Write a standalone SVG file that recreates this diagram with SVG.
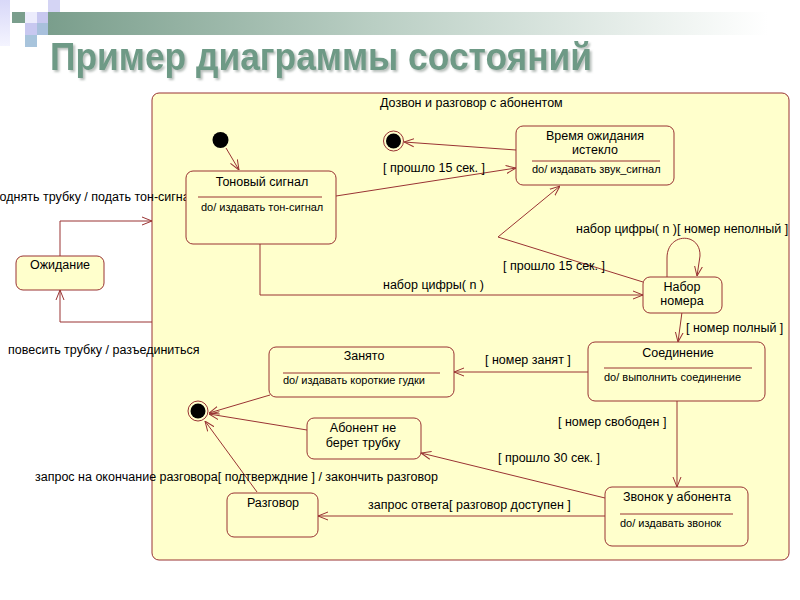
<svg xmlns="http://www.w3.org/2000/svg" width="800" height="600" viewBox="0 0 800 600">
<defs>
<linearGradient id="bar" x1="0" y1="0" x2="1" y2="0">
<stop offset="0" stop-color="#7A9E8C"/>
<stop offset="0.45" stop-color="#B9CEC3"/>
<stop offset="1" stop-color="#FFFFFF"/>
</linearGradient>
<linearGradient id="lav" x1="0" y1="0" x2="0" y2="1">
<stop offset="0" stop-color="#D8D8F8"/>
<stop offset="1" stop-color="#F4F4FF"/>
</linearGradient>
<filter id="shadow" x="-5%" y="-20%" width="110%" height="150%">
<feDropShadow dx="2" dy="2" stdDeviation="1" flood-color="#9AA49F" flood-opacity="0.7"/>
</filter>
<marker id="arr" viewBox="0 0 10 10" refX="10" refY="5" markerWidth="10" markerHeight="10" markerUnits="userSpaceOnUse" orient="auto">
<path d="M0,1 L10,5 L0,9" fill="none" stroke="#993333" stroke-width="1"/>
</marker>
</defs>
<style>
.t{font-family:"Liberation Sans",Arial,sans-serif;font-size:12.5px;fill:#000}
.s{font-family:"Liberation Sans",Arial,sans-serif;font-size:11px;fill:#000}
.m{text-anchor:middle}
.box{fill:#FFFFCC;stroke:#993333;stroke-width:1}
.div{stroke:#993333;stroke-width:1}
.c{fill:none;stroke:#993333;stroke-width:1}
.a{marker-end:url(#arr)}
</style>
<rect width="800" height="600" fill="#FFFFFF"/>
<g id="decor">
<rect x="0" y="0" width="10" height="46" fill="url(#lav)"/>
<rect x="48" y="0" width="12" height="12" fill="#D4D4F4"/>
<rect x="48" y="12" width="720" height="23" fill="url(#bar)"/>
<rect x="12" y="12" width="13" height="11" fill="#7A9E8C"/>
<rect x="25" y="12" width="12" height="11" fill="#ECECFC"/>
<rect x="37" y="12" width="11" height="11" fill="#C8C8F0"/>
<rect x="25" y="23" width="12" height="12" fill="#C8C8F0"/>
<rect x="37" y="23" width="11" height="12" fill="#A8C0DC"/>
<rect x="25" y="35" width="12" height="12" fill="#A8C4DC"/>
</g>
<g id="title">
<text x="50" y="70" font-family="'Liberation Sans Narrow','Liberation Sans',Arial,sans-serif" font-size="38" font-weight="bold" fill="#6E9A86" textLength="542" lengthAdjust="spacingAndGlyphs" filter="url(#shadow)">Пример диаграммы состояний</text>
</g>
<g id="container">
<rect class="box" x="152" y="93" width="637" height="467" rx="7"/>
<text class="t" x="380" y="107">Дозвон и разговор с абонентом</text>
</g>
<g id="connectors">
<path class="c a" d="M226,148 L239,170"/>
<path class="c a" d="M336,196 L516,168"/>
<path class="c a" d="M516,150 L404,142"/>
<path class="c a" d="M643,282 L498,237 L560,186"/>
<path class="c a" d="M667,277 L667,258 C667,232 701,232 700,256 L697,276"/>
<path class="c a" d="M260,243 L260,295 L643,295"/>
<path class="c a" d="M682,312 L678,342"/>
<path class="c a" d="M588,372 L454,372"/>
<path class="c a" d="M677,401 L677,487"/>
<path class="c a" d="M270,395 L209,413"/>
<path class="c a" d="M307,430 L209,414"/>
<path class="c a" d="M257,492 L205,421"/>
<path class="c a" d="M605,498 L421,453"/>
<path class="c a" d="M605,516 L318,516"/>
<path class="c a" d="M60,256 L60,221 L152,221"/>
<path class="c a" d="M152,322 L60,322 L60,290"/>
<text class="t" x="383" y="172">[ прошло 15 сек. ]</text>
<text class="t" x="503" y="270">[ прошло 15 сек. ]</text>
<text class="t" x="576" y="233">набор цифры( n )[ номер неполный ]</text>
<text class="t" x="383" y="289">набор цифры( n )</text>
<text class="t" x="686" y="332">[ номер полный ]</text>
<text class="t" x="485" y="364">[ номер занят ]</text>
<text class="t" x="558" y="426">[ номер свободен ]</text>
<text class="t" x="498" y="462">[ прошло 30 сек. ]</text>
<text class="t" x="368" y="509">запрос ответа[ разговор доступен ]</text>
<text class="t" x="35" y="481">запрос на окончание разговора[ подтверждние ] / закончить разговор</text>
<text class="t" x="197" y="201" text-anchor="end">поднять трубку / подать тон-сигнал</text>
<text class="t" x="8" y="354">повесить трубку / разъединиться</text>
</g>
<g id="initial">
<circle cx="220.5" cy="140" r="8" fill="#000"/>
</g>
<g id="final-top">
<circle cx="393.5" cy="141" r="10" fill="#FFFFCC" stroke="#993333" stroke-width="1"/>
<circle cx="393.5" cy="141" r="7.5" fill="#000"/>
</g>
<g id="final-bottom">
<circle cx="198" cy="411" r="10" fill="#FFFFCC" stroke="#993333" stroke-width="1"/>
<circle cx="198" cy="411" r="7.5" fill="#000"/>
</g>
<g id="tone">
<rect class="box" x="186" y="171" width="150" height="73" rx="7"/>
<text class="t m" x="262" y="186">Тоновый сигнал</text>
<line class="div" x1="198" y1="197" x2="322" y2="197"/>
<text class="s" x="201" y="211">do/ издавать тон-сигнал</text>
</g>
<g id="timeout">
<rect class="box" x="516" y="126" width="158" height="59" rx="7"/>
<text class="t m" x="595" y="140">Время ожидания</text>
<text class="t m" x="595" y="154">истекло</text>
<line class="div" x1="532" y1="161" x2="660" y2="161"/>
<text class="s" x="532" y="173">do/ издавать звук_сигнал</text>
</g>
<g id="dialing">
<rect class="box" x="643" y="277" width="79" height="36" rx="7"/>
<text class="t m" x="682" y="291">Набор</text>
<text class="t m" x="682" y="305">номера</text>
</g>
<g id="waiting">
<rect class="box" x="16" y="256" width="88" height="34" rx="7"/>
<text class="t m" x="60" y="269">Ожидание</text>
</g>
<g id="busy">
<rect class="box" x="269" y="347" width="185" height="50" rx="7"/>
<text class="t m" x="364" y="360">Занято</text>
<line class="div" x1="283" y1="373" x2="440" y2="373"/>
<text class="s" x="283" y="384">do/ издавать короткие гудки</text>
</g>
<g id="connecting">
<rect class="box" x="588" y="342" width="177" height="59" rx="7"/>
<text class="t m" x="678" y="357">Соединение</text>
<line class="div" x1="604" y1="368" x2="752" y2="368"/>
<text class="s" x="604" y="381">do/ выполнить соединение</text>
</g>
<g id="noanswer">
<rect class="box" x="307" y="418" width="114" height="41" rx="7"/>
<text class="t m" x="363" y="432">Абонент не</text>
<text class="t m" x="363" y="447">берет трубку</text>
</g>
<g id="talk">
<rect class="box" x="227" y="493" width="91" height="44" rx="7"/>
<text class="t m" x="273" y="507">Разговор</text>
</g>
<g id="ringing">
<rect class="box" x="605" y="487" width="143" height="59" rx="7"/>
<text class="t m" x="677" y="501">Звонок у абонента</text>
<line class="div" x1="620" y1="514" x2="733" y2="514"/>
<text class="s" x="620" y="527">do/ издавать звонок</text>
</g>
</svg>
